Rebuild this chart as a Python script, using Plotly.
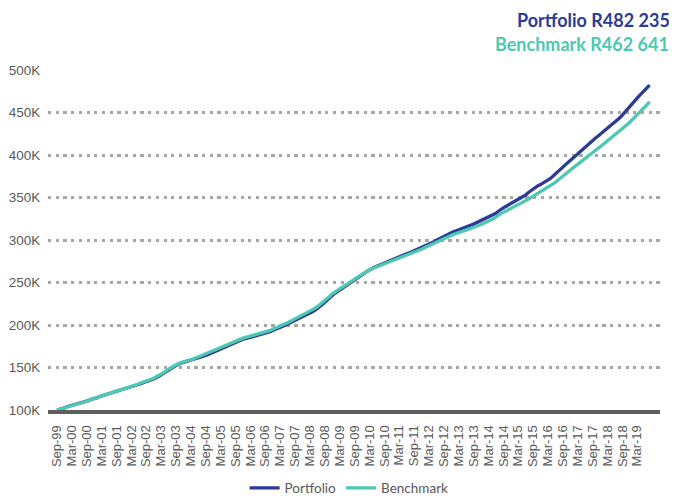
import plotly.graph_objects as go

# Monthly portfolio / benchmark values (R thousands), Sep-99 .. Aug-19
portfolio = [
    100.0, 100.6, 101.9, 102.4, 103.9, 104.7, 105.2, 106.4, 106.9, 107.5, 108.6, 109.1,
    110.4, 111.3, 112.8, 113.4, 114.2, 115.6, 116.5, 117.2, 118.6, 119.1, 120.0, 121.0,
    121.6, 122.7, 123.4, 124.6, 125.5, 126.1, 127.3, 128.4, 129.0, 130.6, 131.2, 132.5,
    133.4, 134.1, 135.3, 136.5, 138.0, 139.8, 141.3, 143.4, 145.0, 147.2, 149.1, 151.3,
    153.0, 154.0, 155.2, 156.1, 156.8, 157.6, 158.0, 159.2, 160.1, 160.8, 162.0, 163.1,
    164.2, 165.4, 166.7, 167.9, 169.2, 170.6, 171.8, 173.4, 174.7, 176.0, 177.5, 178.7,
    180.0, 181.2, 182.1, 183.3, 184.0, 184.8, 185.6, 186.3, 187.2, 187.8, 188.7, 189.4,
    190.0, 191.2, 192.1, 193.5, 194.6, 196.0, 196.8, 198.4, 199.7, 201.0, 202.6, 204.0,
    205.3, 206.9, 208.2, 209.6, 211.2, 212.0, 213.8, 215.4, 217.3, 219.2, 221.6, 224.0,
    226.7, 229.5, 232.0, 235.0, 237.4, 239.1, 241.2, 243.0, 245.2, 247.0, 249.3, 251.0,
    253.1, 255.0, 257.2, 259.0, 261.1, 263.0, 264.8, 266.7, 267.9, 269.1, 270.4, 271.6,
    272.6, 273.9, 275.4, 276.5, 277.9, 279.0, 280.4, 281.6, 282.7, 283.9, 284.8, 286.1,
    287.0, 288.2, 289.8, 291.0, 292.6, 294.1, 295.6, 296.9, 298.0, 299.8, 301.3, 303.0,
    304.6, 306.1, 307.8, 308.7, 309.9, 310.8, 312.1, 313.0, 314.1, 315.0, 316.4, 317.6,
    318.7, 320.1, 321.0, 322.3, 323.5, 325.0, 326.6, 328.2, 329.6, 331.4, 333.8, 336.2,
    337.9, 339.5, 341.2, 343.0, 344.1, 345.8, 347.6, 349.3, 351.4, 352.9, 355.6, 357.8,
    359.9, 362.0, 363.9, 365.2, 366.9, 368.8, 370.6, 372.5, 375.0, 377.9, 380.6, 383.4,
    386.0, 388.6, 391.0, 393.5, 396.2, 398.6, 401.0, 403.7, 406.5, 409.2, 411.9, 414.5,
    417.0, 419.5, 421.8, 424.2, 426.6, 428.9, 431.3, 433.6, 436.0, 438.6, 441.2, 443.8,
    447.0, 450.1, 453.5, 456.8, 460.2, 463.5, 466.9, 470.2, 473.0, 475.6, 478.6, 482.2,
]

benchmark = [
    100.0, 100.8, 101.7, 102.6, 103.7, 104.9, 105.4, 106.2, 107.1, 107.8, 108.5, 109.4,
    110.6, 111.2, 112.9, 113.6, 114.1, 115.8, 116.7, 117.4, 118.4, 119.3, 120.2, 121.3,
    121.9, 122.8, 123.7, 124.8, 125.8, 126.4, 127.6, 128.8, 129.5, 131.0, 131.9, 133.0,
    134.0, 134.9, 136.1, 137.4, 138.9, 140.6, 142.2, 144.2, 145.8, 148.0, 149.9, 151.9,
    153.5, 154.6, 155.7, 156.8, 157.5, 158.4, 158.9, 160.1, 161.0, 161.9, 163.1, 164.2,
    165.3, 166.6, 167.9, 169.2, 170.5, 171.9, 173.2, 174.7, 176.0, 177.4, 178.8, 180.0,
    181.3, 182.4, 183.4, 184.5, 185.3, 186.1, 186.9, 187.6, 188.5, 189.2, 190.0, 190.8,
    191.5, 192.6, 193.6, 195.0, 196.2, 197.5, 198.4, 200.0, 201.3, 202.7, 204.3, 205.8,
    207.1, 208.7, 210.1, 211.6, 213.2, 214.1, 215.9, 217.6, 219.5, 221.5, 223.8, 226.3,
    228.9, 231.5, 233.9, 236.6, 238.8, 240.5, 242.5, 244.3, 246.4, 248.2, 250.3, 252.0,
    253.9, 255.7, 257.7, 259.5, 261.4, 263.1, 264.8, 266.3, 267.4, 268.5, 269.8, 270.9,
    271.9, 273.1, 274.5, 275.5, 276.8, 277.9, 279.2, 280.3, 281.3, 282.4, 283.3, 284.5,
    285.3, 286.5, 288.0, 289.1, 290.6, 292.0, 293.4, 294.6, 295.6, 297.3, 298.7, 300.3,
    301.8, 303.2, 304.8, 305.7, 306.8, 307.6, 308.9, 309.7, 310.7, 311.6, 312.9, 314.0,
    315.0, 316.3, 317.1, 318.3, 319.4, 320.7, 322.2, 323.6, 325.0, 326.6, 328.9, 331.0,
    332.5, 334.0, 335.4, 337.0, 337.9, 339.4, 340.9, 342.3, 344.1, 345.5, 347.8, 349.7,
    351.5, 353.4, 355.2, 356.4, 357.9, 359.7, 361.3, 363.1, 365.3, 367.8, 370.3, 372.8,
    375.4, 377.8, 380.1, 382.3, 384.7, 386.9, 389.0, 391.3, 394.6, 396.9, 399.0, 401.0,
    403.0, 405.1, 407.3, 409.5, 411.8, 414.0, 416.4, 418.6, 420.9, 423.3, 425.6, 428.1,
    430.6, 433.2, 435.9, 438.6, 441.4, 444.4, 447.6, 450.6, 453.4, 456.0, 459.2, 462.6,
]

month_names = ["Jan", "Feb", "Mar", "Apr", "May", "Jun",
               "Jul", "Aug", "Sep", "Oct", "Nov", "Dec"]
months = []
for i in range(len(portfolio)):
    mi = (8 + i) % 12
    yr = (1999 + (8 + i) // 12) % 100
    months.append(f"{month_names[mi]}-{yr:02d}")

tick_labels = months[::6]

y_ticks = [100, 150, 200, 250, 300, 350, 400, 450, 500]
y_tick_text = [f"{v}K" for v in y_ticks]

title_portfolio = "Portfolio R482 235"
title_benchmark = "Benchmark R462 641"

BLUE = "#2E3A94"
TEAL = "#4DC8B2"
GREY = "#595959"

fig = go.Figure()
fig.add_trace(go.Scatter(x=months, y=portfolio, mode="lines", name="Portfolio",
                         line=dict(color=BLUE, width=3.3)))
fig.add_trace(go.Scatter(x=months, y=benchmark, mode="lines", name="Benchmark",
                         line=dict(color=TEAL, width=3.3)))

# page body has an 8px margin, so the figure is sized to the visible area
fig.update_layout(
    width=669, height=491,
    margin=dict(l=40, r=17, t=62, b=89, autoexpand=False),
    paper_bgcolor="white", plot_bgcolor="white",
    showlegend=True,
    legend=dict(orientation="h", x=0.492, xanchor="center",
                yref="container", y=0.0224, yanchor="middle",
                font=dict(family="Lato", size=13.5, color=GREY), traceorder="normal"),
    font=dict(family="Liberation Sans, Arial", color=GREY),
    annotations=[
        dict(text=title_portfolio, xref="paper", yref="paper",
             x=1.0185, y=1.181, xanchor="right", yanchor="top", showarrow=False,
             borderpad=0,
             font=dict(family="Lato", size=18, color=BLUE, weight="bold")),
        dict(text=title_benchmark, xref="paper", yref="paper",
             x=1.0185, y=1.0765, xanchor="right", yanchor="middle", showarrow=False,
             font=dict(family="Lato", size=18, color=TEAL, weight="bold")),
    ],
)

fig.update_xaxes(
    type="category", range=[-3.63, 243.2], automargin=False,
    tickmode="array", tickvals=tick_labels, ticktext=tick_labels,
    tickangle=-90, tickfont=dict(family="Liberation Sans, Arial", size=13, color=GREY),
    showgrid=False, showline=True, linecolor="#5E5E5E", linewidth=4,
    ticks="outside", ticklen=6, tickcolor="rgba(0,0,0,0)",
    zeroline=False,
)
fig.update_yaxes(
    range=[100, 500], automargin=False,
    tickmode="array", tickvals=y_ticks, ticktext=y_tick_text,
    tickfont=dict(family="Liberation Sans, Arial", size=13.5, color=GREY),
    showgrid=True, gridcolor="#A6A6A6", gridwidth=3.2, griddash="3.2px,4.5px",
    showline=False, zeroline=False,
    ticks="outside", ticklen=4, tickcolor="rgba(0,0,0,0)",
)

fig.write_html("out.html")
